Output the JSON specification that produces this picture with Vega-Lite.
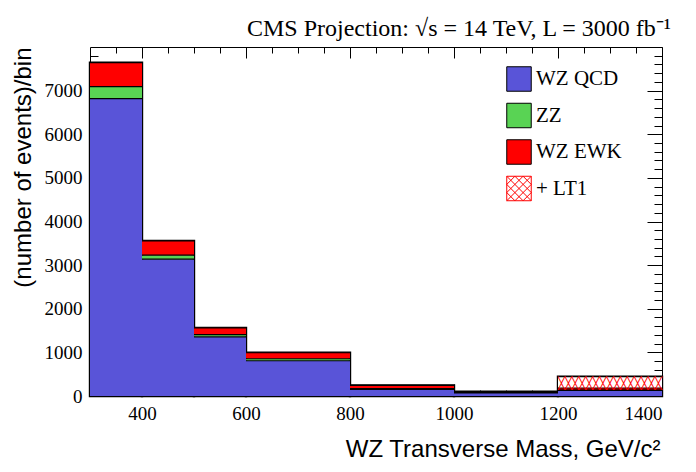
{
  "$schema": "https://vega.github.io/schema/vega-lite/v6.json",
  "width": 572,
  "height": 349,
  "autosize": "none",
  "padding": {"left": 90, "top": 47, "right": 34, "bottom": 76},
  "background": "white",
  "title": {
    "text": "CMS Projection: √s = 14 TeV, L = 3000 fb⁻¹",
    "anchor": "end",
    "frame": "group",
    "baseline": "alphabetic",
    "offset": -13,
    "dx": 9,
    "font": "Liberation Serif",
    "fontSize": 24,
    "fontWeight": "normal",
    "color": "black"
  },
  "data": {
    "values": [
      {"lo": 300, "hi": 400, "component": "WZ QCD", "events": 6815},
      {"lo": 300, "hi": 400, "component": "ZZ", "events": 275},
      {"lo": 300, "hi": 400, "component": "WZ EWK", "events": 550},
      {"lo": 400, "hi": 500, "component": "WZ QCD", "events": 3137},
      {"lo": 400, "hi": 500, "component": "ZZ", "events": 92},
      {"lo": 400, "hi": 500, "component": "WZ EWK", "events": 327},
      {"lo": 500, "hi": 600, "component": "WZ QCD", "events": 1356},
      {"lo": 500, "hi": 600, "component": "ZZ", "events": 50},
      {"lo": 500, "hi": 600, "component": "WZ EWK", "events": 156},
      {"lo": 600, "hi": 800, "component": "WZ QCD", "events": 808},
      {"lo": 600, "hi": 800, "component": "ZZ", "events": 46},
      {"lo": 600, "hi": 800, "component": "WZ EWK", "events": 137},
      {"lo": 800, "hi": 1000, "component": "WZ QCD", "events": 152},
      {"lo": 800, "hi": 1000, "component": "ZZ", "events": 15},
      {"lo": 800, "hi": 1000, "component": "WZ EWK", "events": 75},
      {"lo": 1000, "hi": 1200, "component": "WZ QCD", "events": 72},
      {"lo": 1000, "hi": 1200, "component": "ZZ", "events": 8},
      {"lo": 1000, "hi": 1200, "component": "WZ EWK", "events": 18},
      {"lo": 1200, "hi": 1400, "component": "WZ QCD", "events": 130},
      {"lo": 1200, "hi": 1400, "component": "ZZ", "events": 8},
      {"lo": 1200, "hi": 1400, "component": "WZ EWK", "events": 45},
      {"lo": 1200, "hi": 1400, "component": "+ LT1", "events": 260}
    ]
  },
  "transform": [
    {"stack": "events", "groupby": ["lo"], "as": ["y0", "y1"]}
  ],
  "layer": [
    {
      "transform": [
        {"aggregate": [{"op": "max", "field": "y1", "as": "total"}], "groupby": ["lo", "hi"]}
      ],
      "mark": {"type": "rect", "fill": null, "fillOpacity": 0, "stroke": "black", "strokeWidth": 2.4},
      "encoding": {
        "x": {
          "field": "lo", "type": "quantitative",
          "scale": {"domain": [300, 1400], "nice": false, "zero": false},
          "axis": {
            "orient": "bottom",
            "title": "WZ Transverse Mass, GeV/c²",
            "values": [350, 400, 450, 500, 550, 600, 650, 700, 750, 800, 850, 900, 950, 1000, 1050, 1100, 1150, 1200, 1250, 1300, 1350, 1400],
            "format": "d",
            "labelExpr": "datum.value % 200 === 0 ? datum.label : ''",
            "tickSize": {"condition": {"test": "datum.value % 200 === 0", "value": -12}, "value": -6},
            "labelPadding": 20,
            "titleX": 570,
            "titleY": 60,
            "titleAlign": "right",
            "titleBaseline": "alphabetic"
          }
        },
        "x2": {"field": "hi"},
        "y": {
          "field": "total", "type": "quantitative",
          "scale": {"domain": [0, 8000], "nice": false},
          "axis": {
            "orient": "left",
            "title": "(number of events)/bin",
            "values": [0, 200, 400, 600, 800, 1000, 1200, 1400, 1600, 1800, 2000, 2200, 2400, 2600, 2800, 3000, 3200, 3400, 3600, 3800, 4000, 4200, 4400, 4600, 4800, 5000, 5200, 5400, 5600, 5800, 6000, 6200, 6400, 6600, 6800, 7000, 7200, 7400, 7600, 7800],
            "format": "d",
            "labelExpr": "datum.value % 1000 === 0 ? datum.label : ''",
            "tickSize": {"condition": {"test": "datum.value % 1000 === 0", "value": -15}, "value": -8},
            "labelPadding": 23,
            "titleX": -60,
            "titleY": 0,
            "titleAngle": 270,
            "titleAlign": "right",
            "titleBaseline": "alphabetic"
          }
        },
        "y2": {"datum": 0}
      }
    },
    {
      "mark": {"type": "rect", "strokeWidth": 0},
      "encoding": {
        "x": {
          "field": "lo", "type": "quantitative",
          "scale": {"domain": [300, 1400], "nice": false, "zero": false},
          "axis": {
            "orient": "top",
            "title": null,
            "labels": false,
            "values": [350, 400, 450, 500, 550, 600, 650, 700, 750, 800, 850, 900, 950, 1000, 1050, 1100, 1150, 1200, 1250, 1300, 1350, 1400],
            "tickSize": {"condition": {"test": "datum.value % 200 === 0", "value": -11}, "value": -6}
          }
        },
        "x2": {"field": "hi"},
        "y": {
          "field": "y0", "type": "quantitative",
          "scale": {"domain": [0, 8000], "nice": false},
          "axis": {
            "orient": "right",
            "title": null,
            "labels": false,
            "values": [0, 200, 400, 600, 800, 1000, 1200, 1400, 1600, 1800, 2000, 2200, 2400, 2600, 2800, 3000, 3200, 3400, 3600, 3800, 4000, 4200, 4400, 4600, 4800, 5000, 5200, 5400, 5600, 5800, 6000, 6200, 6400, 6600, 6800, 7000, 7200, 7400, 7600, 7800],
            "tickSize": {"condition": {"test": "datum.value % 1000 === 0", "value": -15}, "value": -8}
          }
        },
        "y2": {"field": "y1"},
        "color": {
          "field": "component", "type": "nominal",
          "scale": {
            "domain": ["WZ QCD", "ZZ", "WZ EWK", "+ LT1"],
            "range": ["#5954d8", "#59d354", "#ff0000", "#ffffff"]
          },
          "legend": {
            "title": null,
            "orient": "none",
            "legendX": 416,
            "legendY": 19,
            "symbolType": "square",
            "symbolSize": 600,
            "symbolStrokeColor": "black",
            "symbolStrokeWidth": 1,
            "symbolOpacity": 1,
            "labelFont": "Liberation Serif",
            "labelFontSize": 21,
            "labelColor": "black",
            "labelOffset": 4,
            "rowPadding": 6.5,
            "padding": 0,
            "encode": {
              "symbols": {
                "update": {
                  "shape": [
                    {"test": "datum.value === '+ LT1'", "value": "M-1,-1H1V1H-1Z M-1,-1L1,1 M-0.333,-1L1,0.333 M0.333,-1L1,-0.333 M-1,-0.333L0.333,1 M-1,0.333L-0.333,1 M-1,1L1,-1 M-0.333,1L1,-0.333 M0.333,1L1,0.333 M-1,0.333L0.333,-1 M-1,-0.333L-0.333,-1"},
                    {"value": "square"}
                  ],
                  "stroke": [
                    {"test": "datum.value === '+ LT1'", "value": "#ff0000"},
                    {"value": "black"}
                  ]
                }
              }
            }
          }
        }
      }
    },
    {
      "mark": {"type": "rule", "color": "black", "strokeWidth": 1.2},
      "encoding": {
        "x": {"field": "lo", "type": "quantitative", "scale": {"domain": [300, 1400], "nice": false, "zero": false}, "axis": null},
        "x2": {"field": "hi"},
        "y": {"field": "y1", "type": "quantitative", "scale": {"domain": [0, 8000], "nice": false}, "axis": null}
      }
    },
    {
      "transform": [{"filter": "datum.component === '+ LT1'"}],
      "mark": {
        "type": "text",
        "text": "╳╳╳╳╳╳╳╳╳╳╳╳╳╳╳",
        "font": "DejaVu Sans Mono",
        "fontSize": 11.5,
        "align": "left",
        "baseline": "top",
        "color": "#ff0000",
        "dy": 1
      },
      "encoding": {
        "x": {"field": "lo", "type": "quantitative", "scale": {"domain": [300, 1400], "nice": false, "zero": false}, "axis": null},
        "y": {"field": "y1", "type": "quantitative", "scale": {"domain": [0, 8000], "nice": false}, "axis": null}
      }
    }
  ],
  "resolve": {"axis": {"x": "independent", "y": "independent"}},
  "config": {
    "view": {"stroke": "black", "strokeWidth": 1},
    "axis": {
      "domain": false,
      "grid": false,
      "tickColor": "black",
      "tickWidth": 1,
      "labelFont": "Liberation Serif",
      "labelFontSize": 19,
      "labelColor": "black",
      "titleFont": "Liberation Sans",
      "titleFontSize": 24,
      "titleFontWeight": "normal",
      "titleColor": "black"
    }
  }
}
